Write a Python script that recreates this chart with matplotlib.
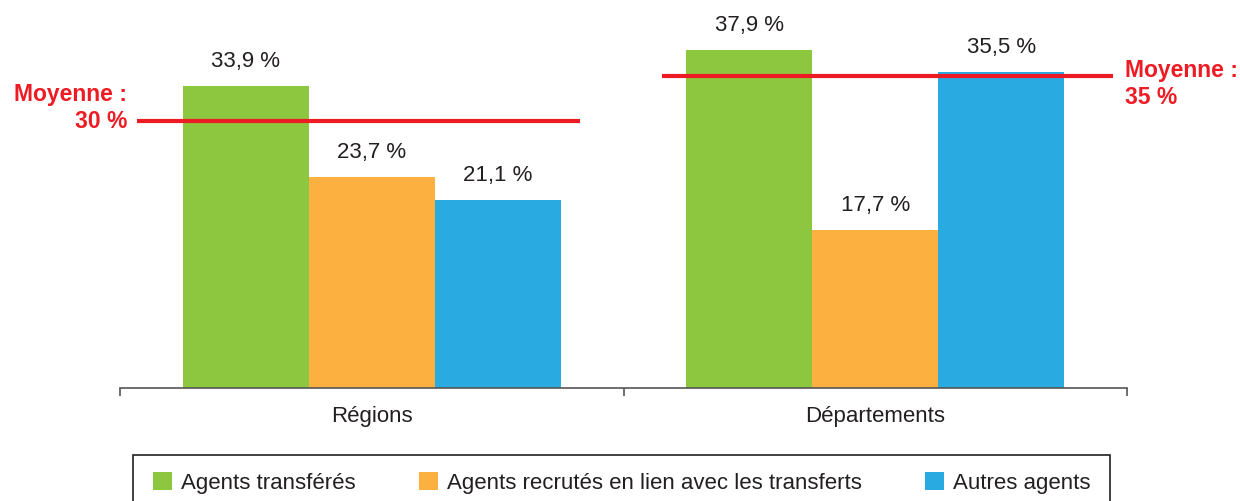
import matplotlib
matplotlib.use("Agg")
import matplotlib.pyplot as plt
from matplotlib.patches import Rectangle, Patch
import numpy as np

categories = ["Régions", "Départements"]
series_names = ["Agents transférés", "Agents recrutés en lien avec les transferts", "Autres agents"]
values = {
    "Agents transférés": [33.9, 37.9],
    "Agents recrutés en lien avec les transferts": [23.7, 17.7],
    "Autres agents": [21.1, 35.5],
}
means = [30, 35]
mean_labels = ["30 %", "35 %"]
colors = ["#8dc63f", "#fbb040", "#29abe2"]
red = "#ed1c24"

plt.rcParams['font.family'] = ['Liberation Sans', 'DejaVu Sans']

W, H = 1240, 501
fig = plt.figure(figsize=(W / 100, H / 100), dpi=100)
ymax = 40
base_px = 388
px_per_unit = 8.91
top_px = base_px - ymax * px_per_unit
ax = fig.add_axes([120 / W, (H - base_px) / H, (1127 - 120) / W, (base_px - top_px) / H])

x = np.arange(len(categories))
width = 0.25
offsets = [-0.25, 0.0, 0.25]
for name, col, off in zip(series_names, colors, offsets):
    vals = values[name]
    ax.bar(x + off, vals, width=width, color=col, linewidth=0, zorder=2)
    for xi, v in zip(x, vals):
        ax.annotate(f"{v:.1f} %".replace(".", ","), (xi + off, v), xytext=(0, 10),
                    textcoords="offset points", ha="center", va="bottom",
                    fontsize=16, color="#231f20")

# mean lines
mean_spans = [(-0.466, 0.414), (0.5765, 1.472)]
for m, (a, b) in zip(means, mean_spans):
    ax.plot([a, b], [m, m], color=red, linewidth=3, solid_capstyle="butt", zorder=3)

ax.set_xlim(-0.5, 1.5)
ax.set_ylim(0, ymax)
for s in ["top", "right", "left"]:
    ax.spines[s].set_visible(False)
ax.spines["bottom"].set_color("#555555")
ax.spines["bottom"].set_linewidth(1.2)
ax.set_yticks([])
ax.set_xticks(x)
ax.set_xticklabels(categories, fontsize=16, color="#231f20")
ax.tick_params(axis="x", which="major", length=0, pad=13)
ax.set_xticks([-0.5, 0.5, 1.5], minor=True)
ax.tick_params(axis="x", which="minor", length=6, width=1.2, color="#555555", direction="out")

# mean labels
fs_m = 16.5
fig.text(127 / W, 1 - 95 / H, "Moyenne :", ha="right", va="center", fontsize=fs_m,
         fontweight="bold", color=red)
fig.text(127 / W, 1 - 122 / H, mean_labels[0], ha="right", va="center", fontsize=fs_m,
         fontweight="bold", color=red)
fig.text(1125 / W, 1 - 70 / H, "Moyenne :", ha="left", va="center", fontsize=fs_m,
         fontweight="bold", color=red)
fig.text(1125 / W, 1 - 97 / H, mean_labels[1], ha="left", va="center", fontsize=fs_m,
         fontweight="bold", color=red)

# legend frame
fig.patches.append(Rectangle((133 / W, -30 / H), (1110 - 133) / W, (H - 455 + 30) / H,
                             transform=fig.transFigure, fill=False, edgecolor="#231f20",
                             linewidth=1.2))
handles = [Patch(facecolor=c, edgecolor="none") for c in colors]
fig.legend(handles, series_names, loc="center", mode="expand", ncol=3,
           bbox_to_anchor=(153 / W, 1 - 483 / H, (1090 - 153) / W, 0),
           frameon=False, borderpad=0, borderaxespad=0, fontsize=16,
           handlelength=0.85, handleheight=0.85, handletextpad=0.4,
           labelcolor="#231f20")

fig.savefig("out.png", dpi=100)
